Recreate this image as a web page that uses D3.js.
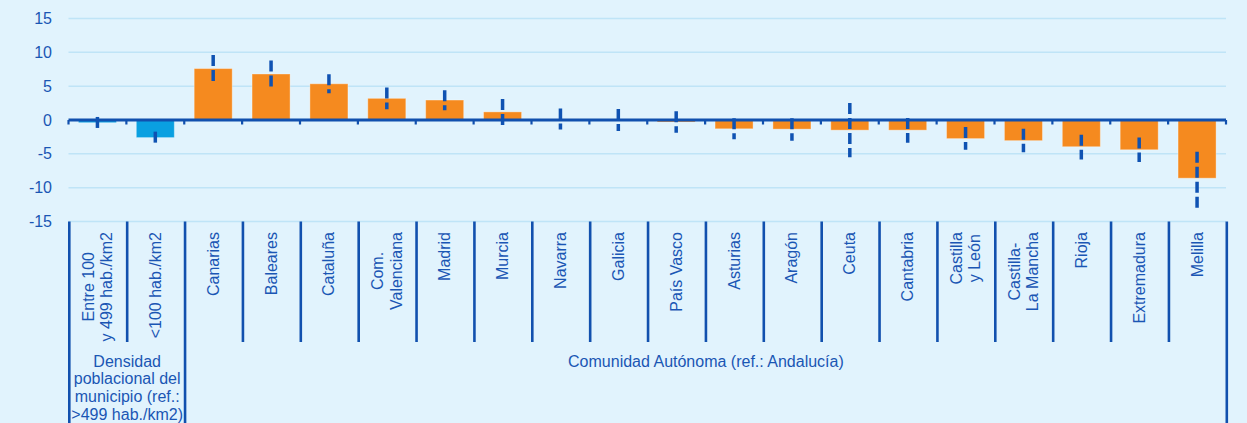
<!DOCTYPE html>
<html>
<head>
<meta charset="utf-8">
<script src="https://cdn.jsdelivr.net/npm/d3@7"></script>
<style>
  html, body { margin: 0; padding: 0; background: #e1f3fd; }
  svg { display: block; font-family: "Liberation Sans", Arial, sans-serif; }
</style>
</head>
<body>
<svg id="chart" width="1247" height="423"></svg>
<script>
// Category labels (lines of each rotated label)
const categories = [
  ["Entre 100", "y 499 hab./km2"],
  ["<100 hab./km2"],
  ["Canarias"], ["Baleares"], ["Cataluña"], ["Com.", "Valenciana"],
  ["Madrid"], ["Murcia"], ["Navarra"], ["Galicia"], ["País Vasco"],
  ["Asturias"], ["Aragón"], ["Ceuta"], ["Cantabria"],
  ["Castilla", "y León"], ["Castilla-", "La Mancha"],
  ["Rioja"], ["Extremadura"], ["Melilla"]
];
// Estimated effect (points) and confidence interval bounds
const values = [-0.4, -2.6, 7.6, 6.8, 5.35, 3.2, 2.95, 1.2, 0.15, -0.05, -0.3,
  -1.3, -1.35, -1.5, -1.5, -2.75, -3.05, -3.95, -4.4, -8.6];
const ciLow = [-1.2, -3.45, 5.6, 4.9, 3.95, 1.6, 1.45, -0.75, -1.4, -1.62, -1.9,
  -2.85, -3.05, -5.5, -3.35, -4.4, -4.75, -5.85, -6.2, -13.15];
const ciHigh = [0.45, -1.72, 9.6, 8.8, 6.75, 4.8, 4.4, 3.1, 1.7, 1.62, 1.3,
  0.25, 0.25, 2.5, 0.3, -1.03, -1.3, -2.18, -2.6, -4.7];
// Grouping of the categories along the axis
const groupNames = [
  ["Densidad", "poblacional del", "municipio (ref.:", ">499 hab./km2)"],
  ["Comunidad Autónoma (ref.: Andalucía)"]
];
const groupSizes = [2, 18];
const groupColors = ["#0aa0e1", "#f58a1f"];
const yTicks = [15, 10, 5, 0, -5, -10, -15];

const TEXT = "#1a56b4";
const AXIS = "#1150ae";
const GRID = "#bfe4f7";
const FONT = "16px";

const svg = d3.select("#chart");
const left = 68.5, right = 1226;
const ids = categories.map((c, i) => i);

const x = d3.scaleBand().domain(ids).range([left, right])
  .paddingInner(0.343).paddingOuter(0.1715);
const step = x.step();
const y = d3.scaleLinear().domain([-15, 15]).range([221.5, 18.5]);

const groupOf = [];
groupSizes.forEach((n, g) => { for (let k = 0; k < n; k++) groupOf.push(g); });

// Gridlines
svg.append("g").selectAll("line").data(yTicks.filter(t => t !== 0)).join("line")
  .attr("x1", left).attr("x2", right)
  .attr("y1", d => y(d)).attr("y2", d => y(d))
  .attr("stroke", GRID).attr("stroke-width", 1.5);

// Y axis labels (plain hyphen for negatives)
const yAxis = d3.axisLeft(y).tickValues(yTicks).tickSize(0).tickPadding(0)
  .tickFormat(d => String(d));
svg.append("g").attr("transform", "translate(52,0)").call(yAxis)
  .call(g => g.select(".domain").remove())
  .call(g => g.selectAll("text").attr("fill", TEXT)
    .style("font-size", FONT).style("font-family", "'Liberation Sans', Arial, sans-serif"));

// Bars
svg.append("g").selectAll("rect").data(ids).join("rect")
  .attr("x", i => x(i))
  .attr("width", x.bandwidth())
  .attr("y", i => y(Math.max(0, values[i])))
  .attr("height", i => Math.abs(y(values[i]) - y(0)))
  .attr("fill", i => groupColors[groupOf[i]])
  .attr("stroke", "#ffffff").attr("stroke-opacity", 0.35).attr("stroke-width", 1);

// Zero axis line with boundary ticks
const boundaries = d3.range(categories.length + 1).map(k => left + k * step);
svg.append("g").selectAll("line").data(boundaries).join("line")
  .attr("x1", d => d).attr("x2", d => d)
  .attr("y1", y(0)).attr("y2", y(0) + 4.5)
  .attr("stroke", AXIS).attr("stroke-width", 2.2);
svg.append("line")
  .attr("x1", left).attr("x2", right).attr("y1", y(0)).attr("y2", y(0))
  .attr("stroke", AXIS).attr("stroke-width", 3);

// Confidence intervals (dashed)
svg.append("g").selectAll("line").data(ids).join("line")
  .attr("x1", i => x(i) + x.bandwidth() / 2).attr("x2", i => x(i) + x.bandwidth() / 2)
  .attr("y1", i => y(ciHigh[i])).attr("y2", i => y(ciLow[i]))
  .attr("stroke", "#0f52b2").attr("stroke-width", 3.5)
  .attr("stroke-dasharray", "11,4");

// Category separators in the label area
const labelTop = y(-15);
const groupEdges = [0];
groupSizes.forEach(n => groupEdges.push(groupEdges[groupEdges.length - 1] + n));
svg.append("g").selectAll("line").data(d3.range(categories.length + 1)).join("line")
  .attr("x1", k => boundaries[k] + 0.8).attr("x2", k => boundaries[k] + 0.8)
  .attr("y1", labelTop).attr("y2", k => groupEdges.includes(k) ? 423 : 342)
  .attr("stroke", AXIS).attr("stroke-width", 2.6);

// Rotated category labels
const catG = svg.append("g");
ids.forEach(i => {
  const lines = categories[i];
  const cx = x(i) + x.bandwidth() / 2;
  const lh = 18.6;
  const g = catG.append("g");
  const texts = lines.map((t, j) => g.append("text")
    .text(t)
    .attr("fill", TEXT).style("font-size", FONT)
    .attr("text-anchor", "middle")
    .attr("dominant-baseline", "central"));
  const maxLen = d3.max(texts, t => t.node().getComputedTextLength());
  const cy = 232 + maxLen / 2;
  texts.forEach((t, j) => {
    const off = (j - (lines.length - 1) / 2) * lh;
    t.attr("transform", `translate(${cx + off},${cy}) rotate(-90)`);
  });
});

// Group labels
groupNames.forEach((lines, g) => {
  const x0 = boundaries[groupEdges[g]], x1 = boundaries[groupEdges[g + 1]];
  const t = svg.append("text")
    .attr("x", (x0 + x1) / 2 + 0.8).attr("y", 366.5)
    .attr("fill", TEXT).style("font-size", FONT).attr("text-anchor", "middle");
  lines.forEach((l, j) => {
    t.append("tspan").attr("x", (x0 + x1) / 2 + 0.8).attr("dy", j === 0 ? 0 : 17.9).text(l);
  });
});
</script>
</body>
</html>
